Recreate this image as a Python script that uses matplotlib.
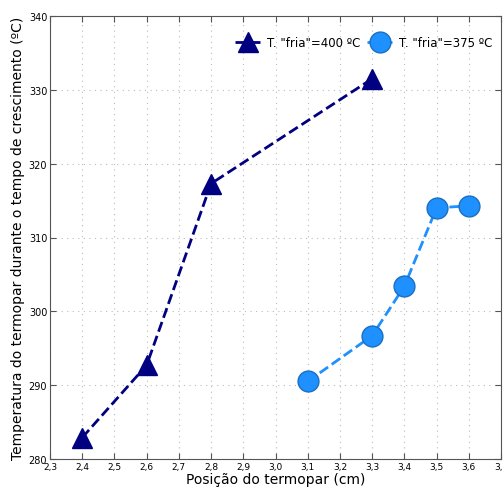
import matplotlib
matplotlib.use("Agg")
import matplotlib.pyplot as plt

# Dados
pos_400 = [2.4, 2.6, 2.8, 3.3]
temp_400 = [282.9, 292.7, 317.3, 331.5]
pos_375 = [3.1, 3.3, 3.4, 3.5, 3.6]
temp_375 = [290.5, 296.7, 303.4, 314.0, 314.3]
xticks = [2.3, 2.4, 2.5, 2.6, 2.7, 2.8, 2.9, 3.0, 3.1, 3.2, 3.3, 3.4, 3.5, 3.6, 3.7]
yticks = [280, 290, 300, 310, 320, 330, 340]

fig = plt.figure(figsize=(5.03, 4.89), dpi=100)
ax = fig.add_axes([50 / 503, 29 / 489, 451 / 503, 443 / 489])

ax.plot(pos_400, temp_400, '--', color='#000080', lw=2, marker='^',
        markersize=15, label='T. "fria"=400 ºC')
ax.plot(pos_375, temp_375, '--', color='#1E90FF', lw=2, marker='o',
        markersize=15, markeredgecolor='#1a6fc0', label='T. "fria"=375 ºC')

ax.set_xlim(2.3, 3.7)
ax.set_ylim(280, 340)
ax.set_xticks(xticks)
ax.set_xticklabels([f"{t:.1f}".replace('.', ',') for t in xticks], fontsize=6.5)
ax.set_yticks(yticks)
ax.set_yticklabels([str(t) for t in yticks], fontsize=7)
ax.tick_params(direction='in', length=4, width=0.8, top=True, right=True,
               color='#555555', pad=2)
ax.grid(True, linestyle=(0, (1, 4)), color='#bbbbbb', linewidth=0.8)
for s in ax.spines.values():
    s.set_color('#555555')

ax.set_xlabel('Posição do termopar (cm)', fontsize=10, labelpad=1)
ax.set_ylabel('Temperatura do termopar durante o tempo de crescimento (ºC)',
              fontsize=10, labelpad=3)

ax.legend(loc='upper right', ncol=2, frameon=False, fontsize=8.5,
          handlelength=2.2, columnspacing=0.6, handletextpad=0.5,
          borderaxespad=1.0, bbox_to_anchor=(1.018, 0.992))

fig.savefig('out.png', dpi=100)
